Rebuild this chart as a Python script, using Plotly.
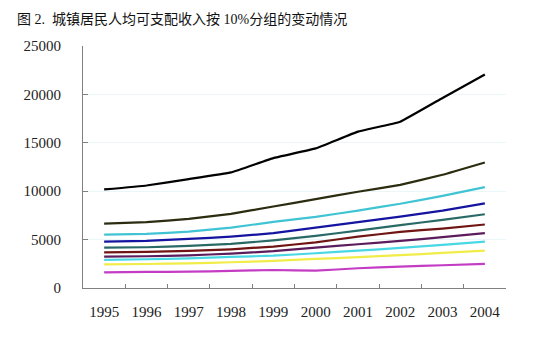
import plotly.graph_objects as go

years = ["1995", "1996", "1997", "1998", "1999", "2000", "2001", "2002", "2003", "2004"]

# Per-capita disposable income by income decile (yuan), highest to lowest
decile_10 = [10180, 10590, 11250, 11940, 13420, 14420, 16150, 17180, 19630, 22050]
decile_9 = [6660, 6800, 7140, 7660, 8420, 9180, 9940, 10660, 11700, 12970]
decile_8 = [5520, 5590, 5830, 6240, 6830, 7350, 8000, 8700, 9520, 10420]
decile_7 = [4800, 4870, 5070, 5310, 5660, 6240, 6800, 7380, 8000, 8740]
decile_6 = [4170, 4210, 4350, 4550, 4930, 5380, 5930, 6490, 7040, 7620]
decile_5 = [3690, 3730, 3830, 4000, 4280, 4720, 5300, 5800, 6140, 6560]
decile_4 = [3240, 3280, 3380, 3550, 3800, 4170, 4520, 4870, 5250, 5660]
decile_3 = [2900, 2970, 3070, 3210, 3340, 3590, 3860, 4140, 4450, 4800]
decile_2 = [2450, 2480, 2550, 2660, 2800, 3000, 3180, 3390, 3620, 3860]
decile_1 = [1620, 1660, 1690, 1760, 1860, 1790, 2040, 2210, 2350, 2490]

series = [
    (decile_1, "#c43cc4"),
    (decile_2, "#f0ec48"),
    (decile_3, "#48d8e4"),
    (decile_4, "#5c1c5c"),
    (decile_5, "#701414"),
    (decile_6, "#2a6a66"),
    (decile_7, "#1414a0"),
    (decile_8, "#40c4d4"),
    (decile_9, "#2c2c10"),
    (decile_10, "#000000"),
]

fig = go.Figure()
for values, color in series:
    fig.add_trace(go.Scatter(
        x=years, y=values, mode="lines",
        line=dict(color=color, width=2.2, shape="spline", smoothing=0.25),
        showlegend=False, hoverinfo="skip",
    ))

serif = "Liberation Serif, Times New Roman, Noto Sans CJK SC, serif"

fig.update_layout(
    width=560, height=339,
    margin=dict(l=83, r=54, t=46, b=51),
    paper_bgcolor="white", plot_bgcolor="white",
    title=dict(
        text="图 2.  城镇居民人均可支配收入按 10%分组的变动情况",
        x=17 / 560, xanchor="left", y=1 - 19 / 339, yanchor="middle",
        font=dict(family=serif, size=14, color="#111111"),
    ),
    xaxis=dict(
        type="category", range=[-0.5, 9.5],
        showline=True, linecolor="#808080", linewidth=1,
        ticks="inside", ticklen=4, tickcolor="#808080",
        tickson="boundaries", showgrid=False,
        tickfont=dict(family=serif, size=15, color="#222222"),
        ticklabelstandoff=10,
    ),
    yaxis=dict(
        range=[0, 25000], tickvals=[0, 5000, 10000, 15000, 20000, 25000],
        tickformat="d",
        showline=True, linecolor="#808080", linewidth=1,
        ticks="inside", ticklen=5, tickcolor="#808080",
        showgrid=True, gridcolor="#eaf6f8", gridwidth=1,
        zeroline=False,
        tickfont=dict(family=serif, size=15, color="#222222"),
        ticklabelstandoff=18,
    ),
)

fig.write_html("out.html")
